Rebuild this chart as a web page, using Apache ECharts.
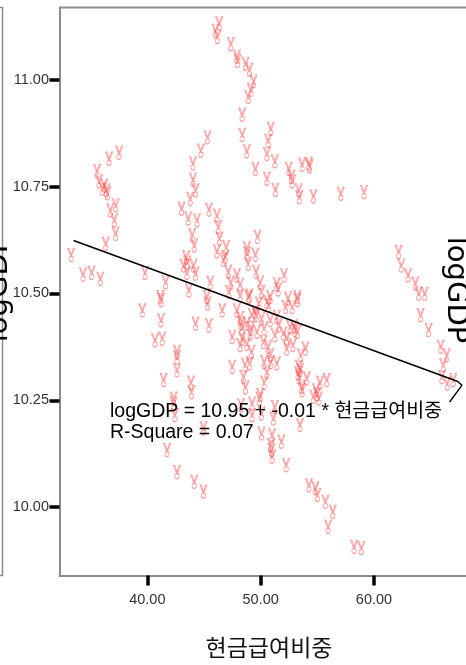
<!DOCTYPE html>
<html>
<head>
<meta charset="utf-8">
<script src="https://cdn.jsdelivr.net/npm/echarts@6.0.0/dist/echarts.min.js"></script>
<style>
  html, body { margin: 0; padding: 0; background: #fff; }
  #chart { width: 466px; height: 665px; }
</style>
</head>
<body>
<div id="chart"></div>
<script>
// 현금급여비중 (x) and logGDP (y)
var cashShare = [
    46.34, 46.02, 46.19, 47.37, 47.90, 47.96, 48.66, 49.01, 49.37, 49.14,
    48.90, 48.37, 50.90, 45.31, 48.37, 50.66, 44.73, 48.78, 50.55, 37.51,
    36.63, 44.03, 51.25, 35.57, 49.54, 52.48, 53.66, 54.25, 54.32, 35.74,
    44.03, 50.55, 52.71, 52.78, 36.04, 36.39, 36.21, 36.48, 44.26, 51.30,
    53.37, 54.65, 57.07, 59.12, 43.79, 53.42, 37.21, 36.74, 43.02, 45.44,
    46.14, 37.09, 43.61, 44.38, 46.26, 37.21, 43.96, 46.37, 49.72, 36.33,
    44.14, 46.14, 46.96, 48.78, 48.81, 33.28, 49.54, 62.18, 43.44, 43.52,
    43.20, 46.72, 48.90, 62.41, 44.26, 43.50, 47.14, 49.60, 39.80, 34.33,
    35.09, 35.86, 47.90, 45.55, 47.37, 48.19, 49.96, 52.07, 63.00, 41.61,
    51.43, 51.54, 43.67, 50.07, 63.64, 63.94, 64.47, 48.19, 47.20, 49.01,
    50.84, 53.24, 52.42, 41.15, 45.26, 39.56, 41.21, 45.31, 46.61, 50.55,
    49.84, 52.19, 52.78, 53.24, 41.21, 44.26, 45.44, 48.19, 48.28, 48.78,
    49.60, 50.07, 50.84, 49.14, 50.31, 51.60, 52.60, 52.95, 53.04, 53.24,
    64.11, 64.82, 40.68, 41.32, 47.49, 48.37, 48.78, 48.19, 50.25, 51.25,
    50.66, 52.31, 52.31, 52.84, 53.95, 49.19, 50.84, 53.54, 42.62, 42.62,
    65.88, 66.41, 49.03, 50.31, 50.90, 51.43, 47.49, 42.62, 53.37, 66.11,
    65.99, 50.55, 53.30, 53.39, 48.48, 54.07, 55.83, 55.24, 41.44, 43.85,
    50.31, 48.66, 43.90, 53.66, 54.89, 54.98, 66.46, 66.99, 49.96, 42.32,
    42.32, 49.25, 49.89, 48.26, 49.25, 50.07, 51.25, 51.13, 54.65, 55.13,
    42.44, 53.48, 44.96, 50.07, 51.01, 51.83, 50.90, 50.95, 51.01, 41.74,
    52.25, 42.62, 44.14, 44.96, 54.25, 54.83, 55.00, 55.71, 56.36, 55.95,
    58.24, 58.88, 46.87, 44.08, 48.93, 47.90, 49.52, 50.69, 49.22, 51.43,
    48.34, 49.07, 49.67, 52.01, 48.63, 53.63, 53.48
];
var logGdp = [
    11.132, 11.114, 11.100, 11.083, 11.054, 11.044, 11.037, 11.023, 10.996, 10.976,
    10.960, 10.918, 10.885, 10.865, 10.871, 10.857, 10.834, 10.832, 10.826, 10.829,
    10.815, 10.804, 10.809, 10.786, 10.791, 10.791, 10.801, 10.803, 10.797, 10.762,
    10.766, 10.768, 10.773, 10.762, 10.745, 10.741, 10.752, 10.734, 10.741, 10.742,
    10.741, 10.727, 10.733, 10.737, 10.721, 10.725, 10.706, 10.694, 10.698, 10.696,
    10.682, 10.671, 10.675, 10.671, 10.655, 10.639, 10.636, 10.628, 10.632, 10.616,
    10.612, 10.598, 10.608, 10.605, 10.593, 10.590, 10.590, 10.597, 10.584, 10.572,
    10.565, 10.579, 10.569, 10.565, 10.546, 10.548, 10.550, 10.550, 10.548, 10.544,
    10.548, 10.534, 10.542, 10.525, 10.525, 10.520, 10.525, 10.542, 10.542, 10.526,
    10.521, 10.509, 10.507, 10.503, 10.523, 10.499, 10.499, 10.495, 10.503, 10.495,
    10.491, 10.491, 10.488, 10.491, 10.491, 10.460, 10.484, 10.476, 10.460, 10.480,
    10.476, 10.468, 10.468, 10.484, 10.437, 10.429, 10.425, 10.442, 10.430, 10.429,
    10.449, 10.441, 10.437, 10.418, 10.418, 10.425, 10.421, 10.423, 10.414, 10.410,
    10.449, 10.414, 10.390, 10.394, 10.398, 10.394, 10.382, 10.379, 10.386, 10.402,
    10.375, 10.394, 10.371, 10.379, 10.371, 10.363, 10.355, 10.355, 10.363, 10.350,
    10.375, 10.355, 10.336, 10.339, 10.339, 10.336, 10.328, 10.320, 10.328, 10.332,
    10.304, 10.316, 10.313, 10.304, 10.304, 10.301, 10.297, 10.291, 10.297, 10.291,
    10.291, 10.280, 10.269, 10.273, 10.273, 10.264, 10.289, 10.297, 10.262, 10.254,
    10.242, 10.242, 10.254, 10.238, 10.215, 10.219, 10.234, 10.207, 10.258, 10.254,
    10.215, 10.192, 10.184, 10.172, 10.168, 10.153, 10.145, 10.133, 10.118, 10.133,
    10.098, 10.082, 10.059, 10.036, 10.051, 10.044, 10.028, 10.012, 9.989, 9.954,
    9.907, 9.904, 10.585, 10.565, 10.491, 10.460, 10.456, 10.472, 10.449, 10.445,
    10.418, 10.406, 10.410, 10.406, 10.332, 10.281, 10.320
];

// fitted line ends and the leader that points to the equation
var fitX = [33.50, 67.40];
var fitY = [10.624, 10.294];
var leaderX = [67.40, 67.75, 66.67];
var leaderY = [10.294, 10.285, 10.246];

var yTicks = [10.00, 10.25, 10.50, 10.75, 11.00];
var xTicks = [40, 50, 60];

var eqLine1 = 'logGDP = 10.95 + -0.01 * 현금급여비중';
var eqLine2 = 'R-Square = 0.07';

var pairs = function (xs, ys) {
    var out = [];
    for (var i = 0; i < xs.length; i++) {
        out.push([xs[i], ys[i]]);
    }
    return out;
};

var chart = echarts.init(document.getElementById('chart'), null, { renderer: 'canvas' });

// little "V over a loop" glyph used as the point marker
var markerPath = 'path://M0,0 L2,0 L5,8 L4.4,9.4 Z M10,0 L8,0 L5,8 L5.6,9.4 Z M5,10 A3.2,3.2 0 1 0 5.01,10 Z';

var frameColor = '#8c8c8c';

var tickFont = {
    fontFamily: 'Liberation Sans',
    fontSize: 14.5,
    color: '#333'
};

var option = {
    backgroundColor: '#fff',
    animation: false,
    grid: {
        left: 59.5,
        top: 7.5,
        width: 420,
        height: 568,
        outerBoundsMode: 'none',
        show: false
    },
    xAxis: {
        type: 'value',
        min: 32.254,
        max: 69.307,
        splitLine: { show: false },
        axisLine: { show: true, lineStyle: { color: frameColor, width: 2 } },
        axisTick: {
            show: true,
            inside: false,
            length: 10,
            customValues: xTicks,
            lineStyle: { color: '#000', width: 3.5 }
        },
        axisLabel: {
            margin: 17,
            customValues: xTicks,
            formatter: function (v) { return v.toFixed(2); },
            fontFamily: tickFont.fontFamily,
            fontSize: tickFont.fontSize,
            color: tickFont.color
        }
    },
    yAxis: {
        type: 'value',
        min: 9.840,
        max: 11.169,
        splitLine: { show: false },
        axisLine: { show: true, lineStyle: { color: frameColor, width: 2 } },
        axisTick: {
            show: true,
            length: 10,
            customValues: yTicks,
            lineStyle: { color: '#000', width: 3.5 }
        },
        axisLabel: {
            margin: 10.5,
            customValues: yTicks,
            formatter: function (v) { return v.toFixed(2); },
            fontFamily: tickFont.fontFamily,
            fontSize: tickFont.fontSize,
            color: tickFont.color
        }
    },
    series: [
        {
            name: 'points',
            type: 'scatter',
            symbol: markerPath,
            symbolSize: [7, 13],
            itemStyle: {
                color: 'rgba(255,255,255,0)',
                borderColor: 'rgba(255,75,75,0.68)',
                borderWidth: 1
            },
            data: pairs(cashShare, logGdp),
            z: 2
        },
        {
            name: 'fit',
            type: 'line',
            showSymbol: false,
            lineStyle: { color: '#000', width: 1.6 },
            data: pairs(fitX, fitY),
            z: 3
        },
        {
            name: 'leader',
            type: 'line',
            showSymbol: false,
            lineStyle: { color: '#000', width: 1.4 },
            data: pairs(leaderX, leaderY),
            z: 3
        }
    ],
    graphic: [
        {
            // top edge of the plot frame
            type: 'line',
            shape: { x1: 59.5, y1: 7.5, x2: 470, y2: 7.5 },
            style: { stroke: frameColor, lineWidth: 2 }
        },
        {
            type: 'rect',
            shape: { x: -20, y: 7.5, width: 22.5, height: 568 },
            style: { fill: 'none', stroke: frameColor, lineWidth: 1.5 }
        },
        {
            type: 'text',
            x: 110,
            y: 411.5,
            z: 10,
            style: {
                text: eqLine1,
                fontFamily: 'Liberation Sans, Noto Sans CJK KR',
                fontSize: 19.5,
                fill: '#000',
                verticalAlign: 'middle'
            }
        },
        {
            type: 'text',
            x: 110,
            y: 433,
            z: 10,
            style: {
                text: eqLine2,
                fontFamily: 'Liberation Sans',
                fontSize: 19.5,
                fill: '#000',
                verticalAlign: 'middle'
            }
        },
        {
            type: 'text',
            x: 456,
            y: 290,
            rotation: -Math.PI / 2,
            style: {
                text: 'logGDP',
                fontFamily: 'DejaVu Sans',
                fontSize: 29,
                fill: '#000',
                align: 'center',
                verticalAlign: 'middle'
            }
        },
        {
            type: 'text',
            x: -1,
            y: 289,
            rotation: Math.PI / 2,
            style: {
                text: 'logGDP',
                fontFamily: 'DejaVu Sans',
                fontSize: 29,
                fill: '#000',
                align: 'center',
                verticalAlign: 'middle'
            }
        },
        {
            type: 'text',
            x: 269,
            y: 647.5,
            style: {
                text: '현금급여비중',
                fontFamily: 'Noto Sans CJK KR',
                fontSize: 23,
                fill: '#111',
                align: 'center',
                verticalAlign: 'middle'
            }
        }
    ]
};

option && chart.setOption(option);
</script>
</body>
</html>
